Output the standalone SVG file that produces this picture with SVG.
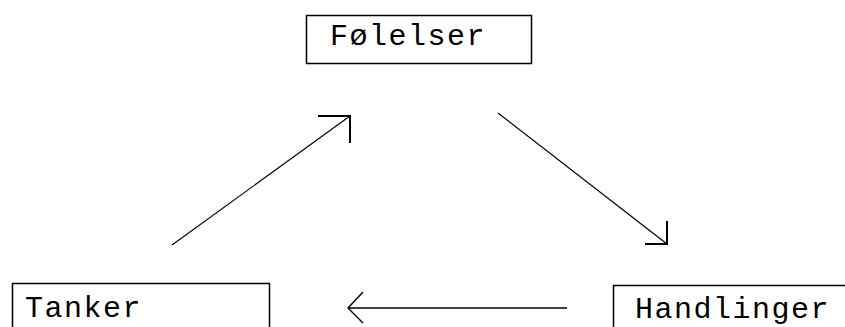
<svg xmlns="http://www.w3.org/2000/svg" width="845" height="327" viewBox="0 0 845 327">
<style>
.box{fill:#fff;stroke:#000;stroke-width:1.5}
.lbl{font-family:"Courier New","Nimbus Mono PS","FreeMono","Courier","Liberation Mono",monospace;font-size:30px;letter-spacing:1.5px;fill:#000}
.ln{fill:none;stroke:#000;stroke-width:1.2}
.hd{fill:none;stroke:#000;stroke-width:2}
</style>
<rect width="845" height="327" fill="#fff"/>
<g id="connectors">
<line class="ln" x1="172" y1="245" x2="350" y2="116"/>
<polyline class="hd" points="318,116 350,116 350,143"/>
<line class="ln" x1="498" y1="113" x2="667" y2="244"/>
<polyline class="hd" points="667,221 667,244 645,244"/>
<line class="ln" x1="567" y1="308" x2="348" y2="308" style="stroke-width:1.6"/>
<polyline class="hd" points="363,292 348,308 363,323" style="stroke-width:1.4"/>
</g>
<g id="node-folelser">
<rect class="box" x="306.5" y="15.5" width="225" height="48"/>
<text class="lbl" x="330" y="45">Følelser</text>
</g>
<g id="node-tanker">
<rect class="box" x="12.5" y="283.5" width="257" height="60"/>
<text class="lbl" x="25" y="317">Tanker</text>
</g>
<g id="node-handlinger">
<rect class="box" x="613.5" y="285.5" width="250" height="60"/>
<text class="lbl" x="635" y="318">Handlinger</text>
</g>
</svg>
